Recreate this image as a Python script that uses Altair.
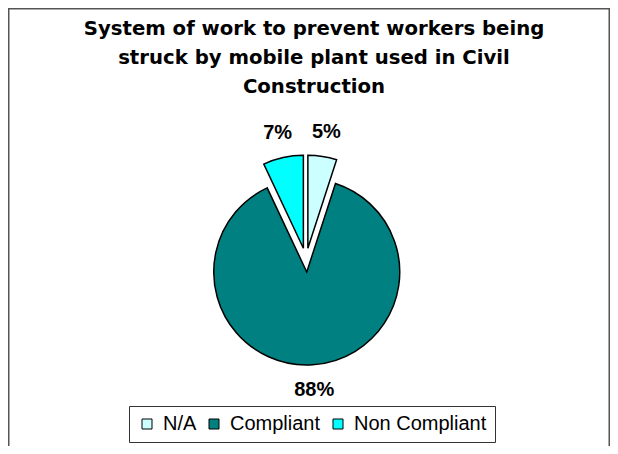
import math
import altair as alt
import pandas as pd

categories = ["N/A", "Compliant", "Non Compliant"]
values = [5, 88, 7]
labels = ["5%", "88%", "7%"]
colors = ["#CCFFFF", "#008080", "#00FFFF"]
title_lines = ["System of work to prevent workers being",
               "struck by mobile plant used in Civil",
               "Construction"]

W, H = 602, 438
CX, CY = 298, 252
R = 93
EXPLODE = 12
LABEL_R = 130

df = pd.DataFrame({"category": categories, "value": values,
                   "label": labels, "order": list(range(len(categories)))})
total = sum(values)
theta_scale = alt.Scale(domain=[0, total], range=[0, 2 * math.pi])
color_scale = alt.Scale(domain=categories, range=colors)

base = (alt.Chart(df)
        .transform_window(cum="sum(value)", sort=[alt.SortField("order")], frame=[None, 0])
        .transform_calculate(start="datum.cum - datum.value",
                             mid="datum.cum - datum.value / 2"))

legend = alt.Legend(orient="none", legendX=121, legendY=398, direction="horizontal",
                    title=None, symbolType="square", symbolSize=100,
                    symbolStrokeColor="black", symbolStrokeWidth=1,
                    labelFont="Liberation Sans", labelFontSize=20, labelColor="black",
                    strokeColor="#333333", fillColor="white", padding=8,
                    columnPadding=7, labelOffset=6)

layers = []
one = alt.Chart(pd.DataFrame({"k": [0]}))
# chart frame (top, left, right)
layers.append(one.mark_rule(color="#555555", strokeWidth=1.5).encode(
    x=alt.value(0), x2=alt.value(W), y=alt.value(0.75)))
layers.append(one.mark_rule(color="#555555", strokeWidth=1.5).encode(
    x=alt.value(0.75), y=alt.value(0), y2=alt.value(H)))
layers.append(one.mark_rule(color="#555555", strokeWidth=1.5).encode(
    x=alt.value(W - 0.75), y=alt.value(0), y2=alt.value(H)))

# title
layers.append(one.mark_text(text=title_lines, font="DejaVu Sans", fontSize=19.7,
                            fontWeight="bold", lineHeight=29, align="center",
                            baseline="alphabetic", color="black").encode(
    x=alt.value(306), y=alt.value(27)))

cum = 0
for c, v in zip(categories, values):
    mid = (cum + v / 2) / total * 2 * math.pi
    cum += v
    dx = EXPLODE * math.sin(mid)
    dy = -EXPLODE * math.cos(mid)
    layers.append(
        base.transform_filter(alt.datum.category == c)
        .mark_arc(radius=R, stroke="black", strokeWidth=1.5, xOffset=dx, yOffset=dy)
        .encode(theta=alt.Theta("start:Q", scale=theta_scale, stack=None),
                theta2="cum:Q",
                color=alt.Color("category:N", scale=color_scale, legend=legend),
                x=alt.value(CX), y=alt.value(CY))
    )

layers.append(
    base.mark_text(radius=LABEL_R, font="Liberation Sans", fontSize=20,
                   fontWeight="bold", color="black", align="center", baseline="middle")
    .encode(theta=alt.Theta("mid:Q", scale=theta_scale, stack=None),
            text="label:N", x=alt.value(CX), y=alt.value(CY))
)

chart = (alt.layer(*layers)
         .properties(width=W, height=H, padding=0, autosize="none")
         .configure_view(stroke=None))

chart.save("out.html", embed_options={"renderer": "svg", "actions": False})
